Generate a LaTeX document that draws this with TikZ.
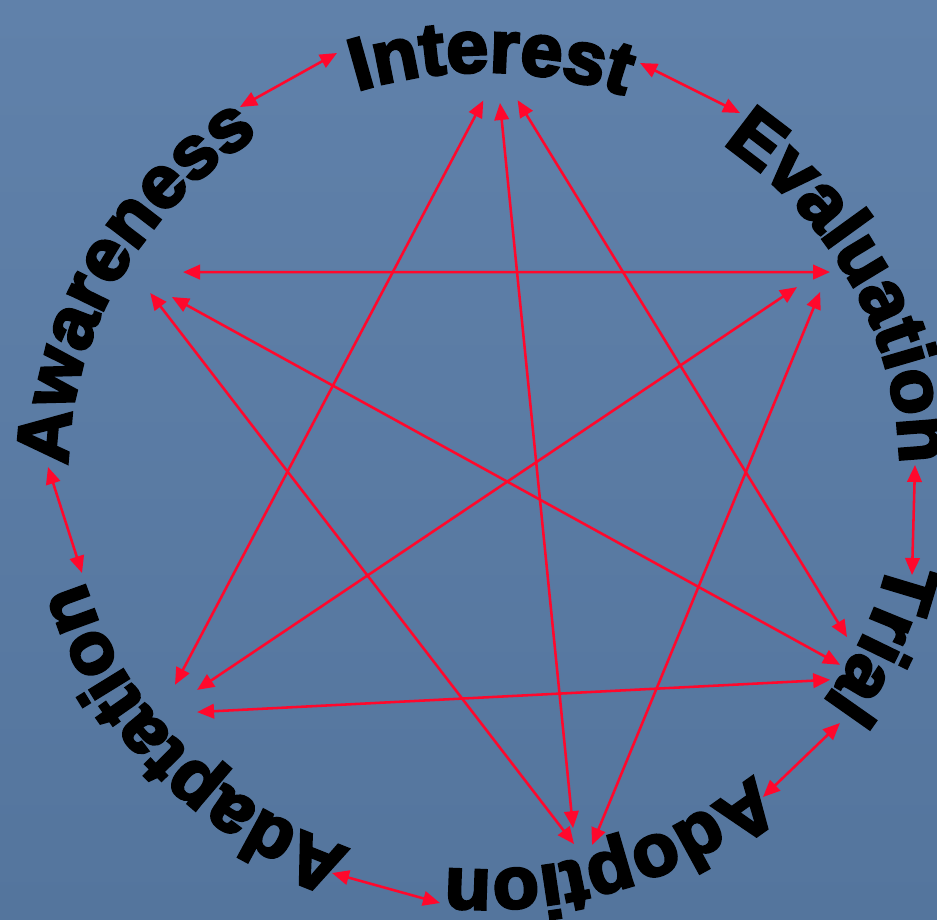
\documentclass[tikz,border=0pt]{standalone}
\usepackage{fontspec}
\newfontfamily\labfont{Liberation Sans}[BoldFeatures={FakeBold=4, FakeStretch=1.02}]
\usetikzlibrary{arrows.meta, calc, decorations.text}

\definecolor{slatetop}{RGB}{96,129,170}
\definecolor{slatebot}{RGB}{84,117,157}
\definecolor{linkred}{RGB}{255,8,44}

\begin{document}
\begin{tikzpicture}[x=0.02cm, y=0.02cm,
  link/.style={line width=1.45pt, linkred, >={Triangle[length=0.34cm,width=0.29cm]}, <->},
  hub/.style={circle, inner sep=0pt, outer sep=0pt},
  word/.style={decorate, decoration={text along path, text align=center,
    text={|\labfont\bfseries\fontsize{42}{42}\selectfont|#1}}}]
  \useasboundingbox (0,0) rectangle (937,-920);
  \fill[top color=slatetop, bottom color=slatebot] (0,0) rectangle (937,-920);

  \coordinate (c) at (484,-471);
  \path[word=Interest] ($(c)+(149:416 and 399)$) arc[start angle=149, end angle=29, x radius=416, y radius=399];
  \path[word=Evaluation] ($(c)+(87.5:416 and 399)$) arc[start angle=87.5, end angle=-32.5, x radius=416, y radius=399];
  \path[word=Trial] ($(c)+(36.5:416 and 399)$) arc[start angle=36.5, end angle=-83.5, x radius=416, y radius=399];
  \path[word=Adoption] ($(c)+(-12:416 and 399)$) arc[start angle=-12, end angle=-132, x radius=416, y radius=399];
  \path[word=Adaptation] ($(c)+(-77:416 and 399)$) arc[start angle=-77, end angle=-197, x radius=416, y radius=399];
  \path[word=Awareness] ($(c)+(211.5:416 and 399)$) arc[start angle=211.5, end angle=91.5, x radius=416, y radius=399];

  \node[hub, minimum size=2.28cm] (inter) at (500,-46) {};
  \node[hub, minimum size=0.75cm] (evalu) at (811.6,-275.3) {};
  \node[hub, minimum size=2.75cm] (trial) at (778.3,-634.7) {};
  \node[hub, minimum size=0.51cm] (adopt) at (583.5,-835.5) {};
  \node[hub, minimum size=0.72cm] (adapt) at (182.9,-701) {};
  \node[hub, minimum size=0.80cm] (aware) at (164.1,-278.6) {};

  \draw[link] (aware.19) -- (evalu.10);
  \draw[link] (aware.-134) -- (adopt.-138);
  \draw[link] (aware.-67) -- (trial.-26);
  \draw[link] (inter.-107) -- (adapt.116);
  \draw[link] (inter.-90) -- (adopt.145);
  \draw[link] (inter.-72) -- (trial.-2);
  \draw[link] (evalu.-141) -- (adapt.38);
  \draw[link] (evalu.-63) -- (adopt.-48);
  \draw[link] (trial.-41) -- (adapt.-38);

  \coordinate (aware-a) at (240,-107);
  \coordinate (inter-a) at (337,-53);
  \coordinate (inter-b) at (640,-63);
  \coordinate (evalu-a) at (740,-113);
  \coordinate (evalu-b) at (915,-465);
  \coordinate (trial-a) at (912,-575);
  \coordinate (trial-b) at (840,-723);
  \coordinate (adopt-a) at (763,-797);
  \coordinate (adopt-b) at (440,-903);
  \coordinate (adapt-a) at (332,-873);
  \coordinate (adapt-b) at (82,-573);
  \coordinate (aware-b) at (48,-467);

  \draw[link] (aware-a) -- (inter-a);
  \draw[link] (inter-b) -- (evalu-a);
  \draw[link] (evalu-b) -- (trial-a);
  \draw[link] (trial-b) -- (adopt-a);
  \draw[link] (adopt-b) -- (adapt-a);
  \draw[link] (adapt-b) -- (aware-b);
\end{tikzpicture}
\end{document}
